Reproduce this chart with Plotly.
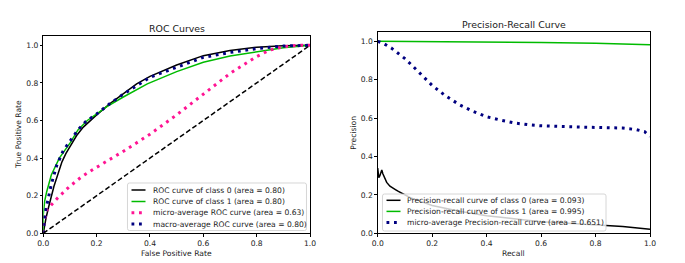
import plotly.graph_objects as go

# ---------------- data ----------------
roc0_fpr = [0, 0.003, 0.01, 0.02, 0.03, 0.04, 0.055, 0.07, 0.085, 0.1, 0.125, 0.15, 0.175, 0.2,
            0.25, 0.3, 0.35, 0.4, 0.5, 0.6, 0.7, 0.8, 0.9, 1.0]
roc0_tpr = [0, 0.03, 0.08, 0.14, 0.2, 0.25, 0.315, 0.38, 0.425, 0.46, 0.52, 0.565, 0.60, 0.63,
            0.69, 0.745, 0.795, 0.835, 0.895, 0.945, 0.972, 0.99, 0.998, 1.0]

roc1_fpr = [0, 0, 0.005, 0.0125, 0.03, 0.06, 0.1, 0.13, 0.165, 0.2, 0.24, 0.3, 0.39,
            0.5, 0.6, 0.7, 0.8, 0.9, 1.0]
roc1_tpr = [0, 0.1, 0.17, 0.22, 0.31, 0.4, 0.48, 0.55, 0.6, 0.635, 0.675, 0.725, 0.795,
            0.86, 0.91, 0.943, 0.967, 0.987, 1.0]

micro_fpr = [0, 0.002, 0.015, 0.0525, 0.0975, 0.144, 0.194, 0.244, 0.2975, 0.3475, 0.4,
             0.5, 0.6, 0.7, 0.8, 0.85, 0.9, 0.95, 1.0]
micro_tpr = [0, 0.06, 0.128, 0.186, 0.248, 0.301, 0.346, 0.387, 0.434, 0.479, 0.527,
             0.63, 0.74, 0.85, 0.94, 0.975, 0.992, 1.0, 1.0]

macro_fpr = [0, 0.003, 0.01, 0.02, 0.03, 0.05, 0.075, 0.1, 0.13, 0.16, 0.2, 0.25, 0.3,
             0.4, 0.5, 0.6, 0.7, 0.8, 0.9, 1.0]
macro_tpr = [0, 0.06, 0.13, 0.2, 0.26, 0.36, 0.44, 0.49, 0.55, 0.595, 0.635, 0.69, 0.74,
             0.83, 0.885, 0.936, 0.962, 0.982, 0.996, 1.0]

diag_x = [0, 1]
diag_y = [0, 1]

pr0_recall = [0, 0.004, 0.008, 0.012, 0.015, 0.019, 0.025, 0.033, 0.045, 0.057, 0.065, 0.076,
              0.094, 0.12, 0.15, 0.2, 0.3, 0.4, 0.5, 0.6, 0.7, 0.8, 0.9, 1.0]
pr0_precision = [0.34, 0.29, 0.30, 0.32, 0.33, 0.31, 0.29, 0.265, 0.245, 0.237, 0.228, 0.218,
                 0.205, 0.185, 0.17, 0.145, 0.115, 0.092, 0.076, 0.06, 0.052, 0.044, 0.035, 0.021]

pr1_recall = [0, 0.2, 0.4, 0.6, 0.8, 0.9, 1.0]
pr1_precision = [1.0, 0.999, 0.997, 0.994, 0.99, 0.987, 0.982]

prmicro_recall = [0, 0.02, 0.05, 0.075, 0.1, 0.125, 0.15, 0.175, 0.2, 0.25, 0.3, 0.35, 0.4,
                  0.45, 0.5, 0.55, 0.6, 0.7, 0.8, 0.9, 0.95, 0.98, 1.0]
prmicro_precision = [1.0, 0.99, 0.965, 0.938, 0.91, 0.876, 0.84, 0.805, 0.77, 0.715, 0.67,
                     0.635, 0.607, 0.59, 0.575, 0.566, 0.56, 0.555, 0.552, 0.548, 0.54, 0.53, 0.505]

roc_labels = ["ROC curve of class 0 (area = 0.80)",
              "ROC curve of class 1 (area = 0.80)",
              "micro-average ROC curve (area = 0.63)",
              "macro-average ROC curve (area = 0.80)"]
pr_labels = ["Precision-recall curve of class 0 (area = 0.093)",
             "Precision-recall curve of class 1 (area = 0.995)",
             "micro-average Precision-recall curve (area = 0.651)"]

tick_values = [0, 0.2, 0.4, 0.6, 0.8, 1.0]
tick_labels = ["0.0", "0.2", "0.4", "0.6", "0.8", "1.0"]

# ---------------- styling ----------------
W, H = 685, 263
FONT = "DejaVu Sans"
FS = 7.6          # ticks, axis labels, legend
FS_TITLE = 9.4
TXT = "#1a1a1a"
BLACK = "#000000"
GREEN = "#00bb00"
PINK = "#ff1493"
NAVY = "#000080"
LW = 1.5
DOT = "2.8px,4.7px"
DOT_W = 3
DASH = "5px,2.6px"


def px(p):
    return p / W


def py(p):
    return 1 - p / H


# axes boxes in pixels
L_X0, L_X1, L_Y0, L_Y1 = 43.3, 310.0, 35.9, 233.3
R_X0, R_X1, R_Y0, R_Y1 = 377.7, 650.0, 31.7, 233.3

fig = go.Figure()


def add(x, y, color, name, axis, width=LW, dash=None):
    xa, ya = ("x", "y") if axis == 1 else ("x2", "y2")
    fig.add_trace(go.Scatter(x=x, y=y, mode="lines", name=name, showlegend=False,
                             xaxis=xa, yaxis=ya, hoverinfo="skip",
                             line=dict(color=color, width=width, dash=dash)))


add(roc0_fpr, roc0_tpr, BLACK, roc_labels[0], 1)
add(roc1_fpr, roc1_tpr, GREEN, roc_labels[1], 1)
add(micro_fpr, micro_tpr, PINK, roc_labels[2], 1, DOT_W, DOT)
add(macro_fpr, macro_tpr, NAVY, roc_labels[3], 1, DOT_W, DOT)
add(diag_x, diag_y, BLACK, "chance", 1, LW, DASH)

add(pr0_recall, pr0_precision, BLACK, pr_labels[0], 2)
add(pr1_recall, pr1_precision, GREEN, pr_labels[1], 2)
add(prmicro_recall, prmicro_precision, NAVY, pr_labels[2], 2, DOT_W, DOT)

axis_common = dict(
    range=[0, 1], tickvals=tick_values, ticktext=tick_labels,
    ticks="outside", ticklen=2.5, tickwidth=0.8, tickcolor="black",
    showline=True, linecolor="black", linewidth=0.8, mirror=True,
    showgrid=False, zeroline=False, automargin=False,
    tickfont=dict(family=FONT, size=FS, color=TXT),
)

fig.update_layout(
    width=W, height=H,
    margin=dict(l=0, r=0, t=0, b=0, pad=0, autoexpand=False),
    paper_bgcolor="white", plot_bgcolor="white",
    showlegend=False,
    xaxis=dict(axis_common, domain=[px(L_X0), px(L_X1)], anchor="y"),
    yaxis=dict(axis_common, range=[0, 1.05], domain=[py(L_Y1), py(L_Y0)], anchor="x"),
    xaxis2=dict(axis_common, domain=[px(R_X0), px(R_X1)], anchor="y2"),
    yaxis2=dict(axis_common, range=[0, 1.05], domain=[py(R_Y1), py(R_Y0)], anchor="x2"),
)

annotations = []
shapes = []


def text(x, y, s, size=FS, anchor="center", angle=0):
    annotations.append(dict(x=px(x), y=py(y), xref="paper", yref="paper", text=s,
                            showarrow=False, xanchor=anchor, yanchor="middle",
                            textangle=angle, borderpad=0,
                            font=dict(family=FONT, size=size, color=TXT)))


# titles and axis labels
text((L_X0 + L_X1) / 2, 28, "ROC Curves", size=FS_TITLE)
text((R_X0 + R_X1) / 2, 24, "Precision-Recall Curve", size=FS_TITLE)
text((L_X0 + L_X1) / 2, 253.3, "False Positive Rate")
text((R_X0 + R_X1) / 2, 253.3, "Recall")
text(18.3, (L_Y0 + L_Y1) / 2, "True Positive Rate", angle=-90)
text(353.3, (R_Y0 + R_Y1) / 2, "Precision", angle=-90)


def rounded_box(x0, y0, x1, y1, r=2.0):
    def P(x, y):
        return f"{px(x):.6f},{py(y):.6f}"
    return (f"M{P(x0 + r, y0)} L{P(x1 - r, y0)} Q{P(x1, y0)} {P(x1, y0 + r)} "
            f"L{P(x1, y1 - r)} Q{P(x1, y1)} {P(x1 - r, y1)} L{P(x0 + r, y1)} "
            f"Q{P(x0, y1)} {P(x0, y1 - r)} L{P(x0, y0 + r)} Q{P(x0, y0)} {P(x0 + r, y0)} Z")


def legend(box, rows, hx0, tx, labels, styles):
    x0, y0, x1, y1 = box
    shapes.append(dict(type="path", xref="paper", yref="paper", path=rounded_box(x0, y0, x1, y1),
                       fillcolor="rgba(255,255,255,0.8)", line=dict(color="#cccccc", width=0.8),
                       layer="above"))
    for ry, lab, (col, w, d) in zip(rows, labels, styles):
        shapes.append(dict(type="line", xref="paper", yref="paper",
                           x0=px(hx0), x1=px(hx0 + 14), y0=py(ry), y1=py(ry),
                           line=dict(color=col, width=w, dash=d), layer="above"))
        text(tx, ry, lab, anchor="left")


legend((127.5, 183, 306.5, 230.5), [190, 201.5, 212.8, 224], 131.5, 151.5, roc_labels,
       [(BLACK, LW, "solid"), (GREEN, LW, "solid"), (PINK, DOT_W, DOT), (NAVY, DOT_W, DOT)])
legend((382.5, 194, 606, 231), [200.3, 211.4, 222.5], 386.5, 406.3, pr_labels,
       [(BLACK, LW, "solid"), (GREEN, LW, "solid"), (NAVY, DOT_W, DOT)])

fig.update_layout(annotations=annotations, shapes=shapes)
fig.write_html("out.html", config={"displayModeBar": False},
               post_script="document.body.style.margin='0';document.body.style.padding='0';")
